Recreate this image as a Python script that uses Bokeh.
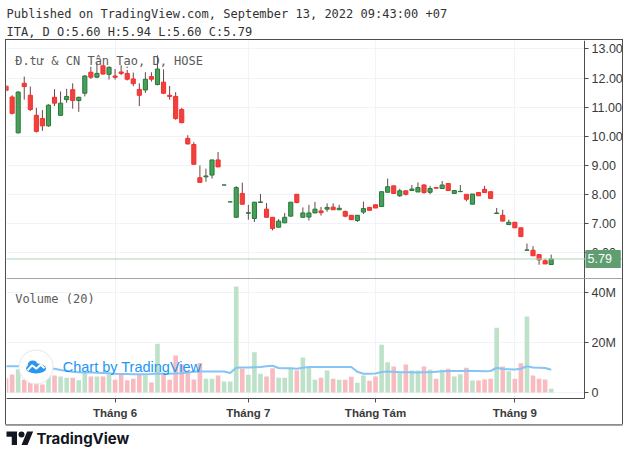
import pandas as pd
from bokeh.plotting import figure
from bokeh.models import (Range1d, FixedTicker, Label, Span, NumeralTickFormatter,
                          ColumnDataSource, BoxAnnotation, Spacer)
from bokeh.layouts import column, row
from bokeh.embed import file_html
from bokeh.resources import INLINE

# ---------------- data ----------------
holidays = ["2022-09-01", "2022-09-02"]
dates = [d for d in pd.bdate_range("2022-05-06", "2022-09-13")
         if d.strftime("%Y-%m-%d") not in holidays]

opens = [11.72, 11.35, 10.12, 11.82, 11.41, 10.72, 10.61, 10.36, 11.34, 10.72,
         11.26, 11.60, 11.23, 11.48, 12.20, 12.03, 12.42, 12.13, 12.07, 12.21,
         12.16, 11.97, 11.61, 11.59, 12.05, 11.78, 11.86, 11.41, 11.37, 10.92,
         9.93, 9.72, 8.58, 8.61, 8.67, 9.19, 8.33, 7.75, 7.22, 8.04,
         7.36, 7.18, 7.73, 7.50, 7.22, 6.88, 7.03, 7.26, 8.01, 7.22,
         7.23, 7.37, 7.44, 7.50, 7.57, 7.48, 7.42, 7.29, 7.11, 7.40,
         7.56, 7.65, 7.59, 8.08, 8.30, 7.96, 8.13, 8.14, 8.09, 8.33,
         8.08, 8.24, 8.21, 8.38, 8.04, 8.10, 8.01, 7.67, 8.07, 8.18,
         8.10, 7.35, 7.29, 6.97, 7.05, 6.86, 6.09, 6.09, 5.94, 5.73,
         5.60]
highs = [11.76, 11.41, 11.55, 12.05, 11.71, 10.98, 10.90, 11.10, 11.62, 11.54,
         11.63, 11.82, 11.36, 12.10, 12.39, 12.53, 12.45, 12.40, 12.31, 12.44,
         12.28, 12.19, 11.82, 12.20, 12.20, 12.78, 12.30, 11.73, 11.52, 10.98,
         10.04, 9.80, 9.00, 8.89, 9.19, 9.46, 8.33, 7.75, 8.29, 8.41,
         7.65, 7.74, 8.02, 7.71, 7.22, 7.16, 7.37, 7.74, 8.01, 7.56,
         7.65, 7.75, 7.58, 7.70, 7.70, 7.65, 7.45, 7.29, 7.29, 7.76,
         7.56, 7.65, 8.10, 8.55, 8.30, 8.20, 8.13, 8.33, 8.42, 8.36,
         8.30, 8.24, 8.47, 8.38, 8.14, 8.33, 8.01, 8.02, 8.07, 8.30,
         8.10, 7.54, 7.48, 7.14, 7.05, 6.86, 6.32, 6.23, 5.94, 5.80,
         5.94]
lows = [11.55, 10.75, 10.10, 11.26, 10.87, 10.13, 10.19, 10.33, 11.04, 10.70,
        11.15, 10.95, 10.84, 11.37, 11.97, 12.00, 12.12, 11.95, 11.95, 12.10,
        11.92, 11.72, 11.04, 11.49, 11.88, 11.75, 11.45, 11.26, 10.57, 10.45,
        9.72, 9.04, 8.42, 8.44, 8.55, 8.95, 8.33, 7.75, 7.22, 7.66,
        7.14, 7.06, 7.73, 7.22, 6.77, 6.88, 7.03, 7.26, 7.70, 7.22,
        7.11, 7.37, 7.28, 7.41, 7.48, 7.48, 7.22, 7.14, 7.06, 7.33,
        7.46, 7.54, 7.59, 8.08, 8.04, 7.92, 7.97, 8.14, 8.09, 8.03,
        8.01, 8.22, 8.21, 8.14, 8.04, 8.10, 7.77, 7.67, 7.96, 8.07,
        7.87, 7.35, 7.09, 6.97, 6.86, 6.56, 6.09, 5.90, 5.59, 5.62,
        5.60]
closes = [11.58, 10.79, 11.52, 11.71, 10.92, 10.17, 10.36, 11.07, 11.14, 11.14,
          11.37, 11.23, 11.34, 12.07, 12.03, 12.16, 12.14, 12.37, 12.03, 12.16,
          11.96, 11.81, 11.41, 11.96, 11.96, 12.31, 11.48, 11.37, 10.61, 10.47,
          9.74, 9.04, 8.42, 8.64, 9.19, 8.95, 8.33, 7.75, 8.24, 7.67,
          7.38, 7.74, 7.75, 7.22, 6.84, 7.09, 7.22, 7.74, 7.73, 7.37,
          7.37, 7.50, 7.38, 7.56, 7.48, 7.53, 7.26, 7.14, 7.29, 7.52,
          7.46, 7.54, 8.10, 8.27, 8.04, 8.13, 8.01, 8.19, 8.24, 8.07,
          8.21, 8.22, 8.33, 8.14, 8.14, 8.11, 7.84, 8.02, 7.96, 8.07,
          7.87, 7.37, 7.09, 7.05, 6.86, 6.56, 6.10, 5.90, 5.76, 5.62,
          5.79]
volumes_m = [5.7, 7.2, 9.3, 5.1, 4.0, 3.9, 3.2, 6.8, 6.8, 6.4,
             5.9, 5.9, 4.9, 7.9, 6.4, 6.4, 6.4, 7.3, 5.1, 7.7,
             4.9, 5.5, 7.3, 6.9, 4.0, 19.5, 7.3, 5.1, 14.8, 11.2,
             7.9, 5.2, 11.8, 5.5, 5.5, 6.8, 4.4, 4.4, 42.4, 9.5,
             7.1, 16.1, 7.5, 6.4, 9.7, 5.9, 5.9, 9.9, 8.8, 14.0,
             9.9, 5.1, 5.9, 8.8, 5.5, 5.1, 5.1, 6.3, 3.9, 6.8,
             4.7, 6.4, 19.1, 12.1, 10.4, 7.7, 11.2, 8.8, 8.8, 10.4,
             9.1, 5.5, 9.1, 9.5, 6.4, 7.3, 9.9, 4.8, 4.8, 5.2,
             5.5, 25.9, 10.4, 8.5, 5.5, 11.7, 30.4, 6.8, 5.5, 5.2,
             1.5]
vol_ma20_m = [10.5, 10.5, 10.5, 10.3, 10.1, 9.9, 9.7, 9.6, 9.5, 9.0,
              8.6, 8.3, 8.1, 8.0, 8.0, 7.9, 7.8, 7.7, 7.5, 7.4,
              7.4, 7.3, 7.3, 7.3, 7.4, 7.6, 7.5, 7.5, 7.6, 7.7,
              8.0, 8.3, 8.4, 8.4, 8.4, 8.4, 8.4, 7.8, 9.9, 10.0,
              10.0, 10.1, 10.2, 10.5, 10.7, 9.8, 9.7, 9.7, 9.5, 9.9,
              10.2, 10.2, 10.2, 10.2, 10.2, 10.2, 10.2, 10.2, 8.3, 7.5,
              7.5, 7.6, 8.2, 8.4, 8.3, 8.1, 8.1, 8.1, 8.0, 8.1,
              8.1, 8.3, 8.5, 8.6, 8.6, 8.6, 8.7, 8.6, 8.6, 8.5,
              8.6, 9.9, 9.4, 9.3, 9.2, 9.5, 10.5, 10.0, 9.9, 9.8,
              9.1]

price_ticks = [6, 7, 8, 9, 10, 11, 12, 13]
volume_ticks = [0, 20, 40]
volume_tick_labels = ["0", "20M", "40M"]
month_names = {6: "Tháng 6", 7: "Tháng 7", 8: "Tháng Tám", 9: "Tháng 9"}
symbol_title = "Đ.tư & CN Tân Tạo, D, HOSE"
volume_title = "Volume (20)"
header_line1 = "Published on TradingView.com, September 13, 2022 09:43:00 +07"
header_line2 = (f"ITA, D O:{opens[-1]:.2f} H:{highs[-1]:.2f} "
                f"L:{lows[-1]:.2f} C:{closes[-1]:.2f}")

# ---------------- styles / geometry ----------------
UP_FILL, UP_LINE = "#4a9e5c", "#237a37"
DN_FILL, DN_LINE = "#e8453f", "#ff2a2a"
WICK = "#6b4545"
VOL_UP, VOL_DN = "#bde2c9", "#f8bcc0"
MA_COLOR = "#86c4f5"
GRID = "#f0f3fa"
FRAME = "#4d4d4d"
TXT = "#3a3a3a"
MONO = "DejaVu Sans Mono"

PAGE_W = 624
PANE_W = 616          # inner chart width (frame incl. price-scale strip)
PLOT_W = 578          # width of the candle area
HEAD_H, PRICE_H, VOL_H, FOOT_H = 40, 238, 146, 26
X0, XAX = 0.07, 95.5  # visible start of the time scale, position of the price scale
X1 = XAX + (PANE_W - PLOT_W) * (XAX - X0) / PLOT_W
P_LO, P_HI = 5.12, 13.29
V_AXIS, V_HI = -2.4, 45.6
V_LO = V_AXIS - (V_HI - V_AXIS) * 26 / 120

idx = list(range(len(dates)))
up = [c >= o for o, c in zip(opens, closes)]
src = ColumnDataSource(dict(
    x=idx, o=opens, h=highs, l=lows, c=closes,
    top=[max(o, c) for o, c in zip(opens, closes)],
    bottom=[min(o, c) for o, c in zip(opens, closes)],
    fill=[UP_FILL if u else DN_FILL for u in up],
    line=[UP_LINE if u else DN_LINE for u in up],
    vol=volumes_m,
    vcol=[VOL_UP if u else VOL_DN for u in up],
    ma=vol_ma20_m,
))

month_ticks, month_labels = [], {}
for i, d in enumerate(dates):
    if i > 0 and d.month != dates[i - 1].month and d.month in month_names:
        month_ticks.append(i)
        month_labels[i] = month_names[d.month]

xr = Range1d(X0, X1)


def style_axis(ax):
    ax.major_label_text_font = "Liberation Sans"
    ax.major_label_text_font_size = "12.5px"
    ax.major_label_text_color = TXT
    ax.major_tick_out = 4
    ax.major_tick_in = 0
    ax.minor_tick_line_color = None
    ax.major_tick_line_color = FRAME
    ax.axis_line_color = FRAME
    ax.major_label_standoff = 3


# ---------------- header ----------------
ph = figure(width=PAGE_W, height=HEAD_H, x_range=Range1d(0, PAGE_W),
            y_range=Range1d(HEAD_H, 0), x_axis_location=None, y_axis_location=None,
            toolbar_location=None, output_backend="svg", min_border=0,
            outline_line_color=None)
ph.grid.visible = False
for yy, txt in ((13.5, header_line1), (31.0, header_line2)):
    ph.add_layout(Label(x=6, y=yy, text=txt, text_baseline="middle",
                        text_font=MONO, text_font_size="12px",
                        text_color="#333333"))
ph.line(x=[5, 6 + PANE_W], y=[HEAD_H - 0.5, HEAD_H - 0.5], line_color=FRAME, line_width=1)

# ---------------- price pane ----------------
p1 = figure(width=PANE_W, height=PRICE_H, x_range=xr, y_range=Range1d(P_LO, P_HI),
            x_axis_location=None, y_axis_location="right",
            toolbar_location=None, output_backend="svg",
            min_border=0, outline_line_color=None)
p1.xgrid.ticker = FixedTicker(ticks=month_ticks)
p1.xgrid.grid_line_color = GRID
p1.ygrid.grid_line_color = GRID
ya = p1.yaxis[0]
ya.ticker = FixedTicker(ticks=price_ticks)
ya.formatter = NumeralTickFormatter(format="0.00")
ya.fixed_location = XAX
style_axis(ya)
p1.add_layout(BoxAnnotation(left=XAX, fill_color="white", fill_alpha=1,
                            line_color=None, level="underlay"))

p1.add_layout(Span(location=closes[-1], dimension="width",
                   line_color="#a9d5b4", line_width=1))
p1.segment(x0="x", y0="l", x1="x", y1="h", source=src, line_color=WICK, line_width=1)
p1.vbar(x="x", width=0.68, top="top", bottom="bottom", source=src,
        fill_color="fill", line_color="line", line_width=1)
p1.add_layout(Label(x=1.5, y=12.58, text=symbol_title, text_baseline="middle",
                    text_font=MONO, text_font_size="12px", text_color="#5a5a5a"))
p1.add_layout(Label(x=XAX, y=closes[-1], x_offset=1, text=f" {closes[-1]:.2f} ",
                    text_baseline="middle", text_align="left",
                    text_font="Liberation Sans", text_font_size="12.5px",
                    text_color="white", background_fill_color="#5f9e70",
                    padding=2))

# ---------------- volume pane (incl. time scale) ----------------
p2 = figure(width=PANE_W, height=VOL_H, x_range=xr, y_range=Range1d(V_LO, V_HI),
            y_axis_location="right", toolbar_location=None, output_backend="svg",
            min_border=0, outline_line_color=None)
p2.xgrid.ticker = FixedTicker(ticks=month_ticks)
p2.xgrid.grid_line_color = GRID
p2.ygrid.grid_line_color = GRID
xa = p2.xaxis[0]
xa.ticker = FixedTicker(ticks=month_ticks)
xa.major_label_overrides = month_labels
xa.fixed_location = V_AXIS
xa.bounds = (X0, XAX)
style_axis(xa)
xa.major_label_text_font_style = "bold"
xa.major_label_text_font_size = "11.5px"
xa.major_label_standoff = 4
yv = p2.yaxis[0]
yv.ticker = FixedTicker(ticks=volume_ticks)
yv.major_label_overrides = dict(zip(volume_ticks, volume_tick_labels))
yv.fixed_location = XAX
yv.bounds = (V_AXIS, V_HI)
style_axis(yv)
p2.add_layout(BoxAnnotation(left=XAX, fill_color="white", fill_alpha=1,
                            line_color=None, level="underlay"))
p2.add_layout(BoxAnnotation(top=V_AXIS, fill_color="white", fill_alpha=1,
                            line_color=None, level="underlay"))

p2.vbar(x="x", width=0.76, top="vol", bottom=0, source=src,
        fill_color="vcol", line_color=None)
p2.line(x="x", y="ma", source=src, line_color=MA_COLOR, line_width=2.2)
p2.add_layout(Span(location=V_HI, dimension="width", line_color=FRAME, line_width=1))
p2.add_layout(Label(x=1.5, y=37.6, text=volume_title, text_baseline="middle",
                    text_font=MONO, text_font_size="12px", text_color="#5a5a5a"))
# watermark "Chart by TradingView"
p2.scatter(x=[4.95], y=[10.2], size=34, marker="circle",
           fill_color="white", line_color="#e3e6ec", line_width=1)
p2.ellipse(x=[4.95], y=[9.6], width=20, height=10, width_units="screen",
           height_units="screen", fill_color="#2a96ee", line_color=None)
p2.ellipse(x=[4.4], y=[11.0], width=10, height=9, width_units="screen",
           height_units="screen", fill_color="#2a96ee", line_color=None)
p2.line(x=[3.55, 4.3, 5.0, 5.7, 6.35], y=[8.9, 10.9, 9.5, 11.1, 9.7],
        line_color="white", line_width=2)
p2.add_layout(Label(x=9.35, y=10.2, text="Chart by TradingView",
                    text_baseline="middle", text_font="Liberation Sans",
                    text_font_size="14.5px", text_color="#2196f3"))

inner = column(p1, p2, styles={"outline": f"1px solid {FRAME}"})
middle = row(Spacer(width=6, height=PRICE_H + VOL_H), inner)

# ---------------- footer (TradingView logo) ----------------
pf = figure(width=PAGE_W, height=FOOT_H, x_range=Range1d(0, PAGE_W),
            y_range=Range1d(FOOT_H, 0), x_axis_location=None, y_axis_location=None,
            toolbar_location=None, output_backend="svg", min_border=0,
            outline_line_color=None)
pf.grid.visible = False
pf.line(x=[5, 6 + PANE_W], y=[0.5, 0.5], line_color=FRAME, line_width=1)
s, lx, ly = 0.75, 6, 7
logo_xs = [[lx + v * s for v in (14, 7, 7, 0, 0, 14)],
           [lx + v * s for v in (28, 20, 27.5, 35.5)]]
logo_ys = [[ly + (v - 4) * s for v in (22, 22, 11, 11, 4, 4)],
           [ly + (v - 4) * s for v in (22, 22, 4, 4)]]
pf.patches(xs=logo_xs, ys=logo_ys, fill_color="#131722", line_color=None)
pf.circle(x=[lx + 20 * s], y=[ly + 4 * s], radius=4 * s, fill_color="#131722",
          line_color=None)
pf.add_layout(Label(x=36, y=ly + 7.2, text="TradingView", text_baseline="middle",
                    text_font="Inter", text_font_style="bold", text_font_size="15px",
                    text_color="#131722"))

layout = column(ph, middle, pf)
open("out.html", "w").write(file_html(layout, INLINE))
